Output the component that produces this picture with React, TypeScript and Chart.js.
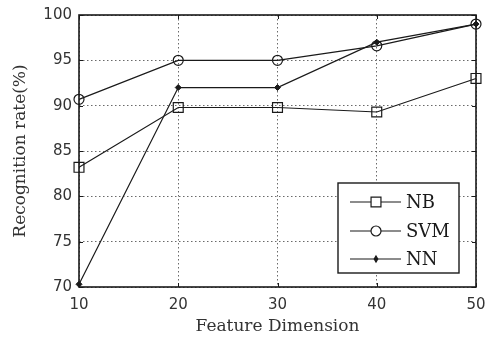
import React, { useEffect, useRef } from "react";
import { Chart, registerables } from "chart.js";

Chart.register(...registerables);

const categories = ["10", "20", "30", "40", "50"];
const nbValues = [83.2, 89.8, 89.8, 89.3, 93.0];
const svmValues = [90.7, 95.0, 95.0, 96.6, 99.0];
const nnValues = [70.3, 92.0, 92.0, 97.0, 99.0];
const seriesNames = ["NB", "SVM", "NN"];
const xTitle = "Feature Dimension";
const yTitle = "Recognition rate(%)";

const LINE = "#1a1a1a";

function drawMarker(ctx: CanvasRenderingContext2D, style: string, x: number, y: number, r: number, fill: string) {
  ctx.save();
  ctx.strokeStyle = LINE;
  ctx.fillStyle = fill;
  ctx.lineWidth = 1.2;
  ctx.beginPath();
  if (style === "rect") {
    const s = r * Math.SQRT1_2;
    ctx.rect(x - s, y - s, 2 * s, 2 * s);
  } else if (style === "circle") {
    ctx.arc(x, y, r, 0, Math.PI * 2);
  } else {
    ctx.moveTo(x, y - r);
    ctx.lineTo(x + r * 0.6, y);
    ctx.lineTo(x, y + r);
    ctx.lineTo(x - r * 0.6, y);
    ctx.closePath();
  }
  ctx.fill();
  ctx.stroke();
  ctx.restore();
}

const framePlugin = {
  id: "frameAndLegend",
  afterDatasetsDraw(chart: any) {
    const ctx: CanvasRenderingContext2D = chart.ctx;
    const a = chart.chartArea;
    const xs = chart.scales.x;
    const ys = chart.scales.y;
    ctx.save();
    ctx.strokeStyle = LINE;
    ctx.lineWidth = 1;
    const tl = 4;
    xs.ticks.forEach((_t: any, i: number) => {
      const px = Math.round(xs.getPixelForTick(i)) + 0.5;
      ctx.beginPath();
      ctx.moveTo(px, a.bottom);
      ctx.lineTo(px, a.bottom - tl);
      ctx.moveTo(px, a.top);
      ctx.lineTo(px, a.top + tl);
      ctx.stroke();
    });
    ys.ticks.forEach((_t: any, i: number) => {
      const py = Math.round(ys.getPixelForTick(i)) + 0.5;
      ctx.beginPath();
      ctx.moveTo(a.left, py);
      ctx.lineTo(a.left + tl, py);
      ctx.moveTo(a.right, py);
      ctx.lineTo(a.right - tl, py);
      ctx.stroke();
    });
    ctx.lineWidth = 1.6;
    ctx.strokeRect(a.left, a.top, a.right - a.left, a.bottom - a.top);

    const bx = 338, by = 183, bw = 121, bh = 90;
    ctx.fillStyle = "#ffffff";
    ctx.fillRect(bx, by, bw, bh);
    ctx.lineWidth = 1.4;
    ctx.strokeStyle = LINE;
    ctx.strokeRect(bx, by, bw, bh);
    const rows = [202, 231, 259];
    chart.data.datasets.forEach((ds: any, i: number) => {
      const y = rows[i];
      ctx.beginPath();
      ctx.lineWidth = 1.2;
      ctx.moveTo(350, y);
      ctx.lineTo(401, y);
      ctx.stroke();
      drawMarker(ctx, ds.pointStyle, 376, y, ds.pointRadius, i < 2 ? "#ffffff" : ds.pointBackgroundColor);
      ctx.fillStyle = LINE;
      ctx.font = "18px 'DejaVu Serif'";
      ctx.textAlign = "left";
      ctx.textBaseline = "middle";
      ctx.fillText(ds.label, 406, y + 1);
    });
    ctx.restore();
  },
};

export default function App() {
  const ref = useRef<HTMLCanvasElement | null>(null);
  useEffect(() => {
    if (!ref.current) return;
    const chart = new Chart(ref.current, {
      type: "line",
      data: {
        labels: categories,
        datasets: [
          {
            label: seriesNames[0],
            data: nbValues,
            borderColor: LINE,
            borderWidth: 1.2,
            pointStyle: "rect",
            pointRadius: 7,
            pointBorderColor: LINE,
            pointBorderWidth: 1.2,
            pointBackgroundColor: "rgba(255,255,255,0)",
            tension: 0,
          },
          {
            label: seriesNames[1],
            data: svmValues,
            borderColor: LINE,
            borderWidth: 1.2,
            pointStyle: "circle",
            pointRadius: 5,
            pointBorderColor: LINE,
            pointBorderWidth: 1.2,
            pointBackgroundColor: "rgba(255,255,255,0)",
            tension: 0,
          },
          {
            label: seriesNames[2],
            data: nnValues,
            borderColor: LINE,
            borderWidth: 1.2,
            pointStyle: "rectRot",
            pointRadius: 3,
            pointBorderColor: LINE,
            pointBorderWidth: 1,
            pointBackgroundColor: LINE,
            tension: 0,
          },
        ],
      },
      options: {
        responsive: false,
        animation: false,
        events: [],
        layout: { padding: { top: 15, right: 0, left: 0, bottom: 0 } },
        plugins: { legend: { display: false }, tooltip: { enabled: false } },
        scales: {
          x: {
            type: "category",
            offset: false,
            grid: { color: "#6a6a6a", lineWidth: 1, drawTicks: false },
            border: { display: false, dash: [1.5, 2.5] },
            ticks: { color: "#333", font: { family: "'DejaVu Sans'", size: 15 }, padding: 9, maxRotation: 0 },
            title: {
              display: true,
              text: xTitle,
              color: "#333",
              font: { family: "'DejaVu Serif'", size: 17 },
              padding: { top: 0, bottom: 6 },
            },
            afterFit: (s: any) => { s.height = 56; s.paddingRight = 9; s.paddingLeft = 0; },
          },
          y: {
            min: 70,
            max: 100,
            grid: { color: "#6a6a6a", lineWidth: 1, drawTicks: false },
            border: { display: false, dash: [1.5, 2.5] },
            ticks: { stepSize: 5, color: "#333", font: { family: "'DejaVu Sans'", size: 15 }, padding: 7 },
            title: {
              display: true,
              text: yTitle,
              color: "#333",
              font: { family: "'DejaVu Serif'", size: 17 },
              padding: { top: 10, bottom: 0 },
            },
            afterFit: (s: any) => { s.width = 79; s.paddingTop = 0; s.paddingBottom = 0; },
          },
        },
      },
      plugins: [framePlugin],
    } as any);
    return () => chart.destroy();
  }, []);
  return (
    <div style={{ position: "fixed", left: 0, top: 0, width: 485, height: 343, background: "#fff" }}>
      <canvas ref={ref} width={485} height={343} style={{ display: "block" }} />
    </div>
  );
}
